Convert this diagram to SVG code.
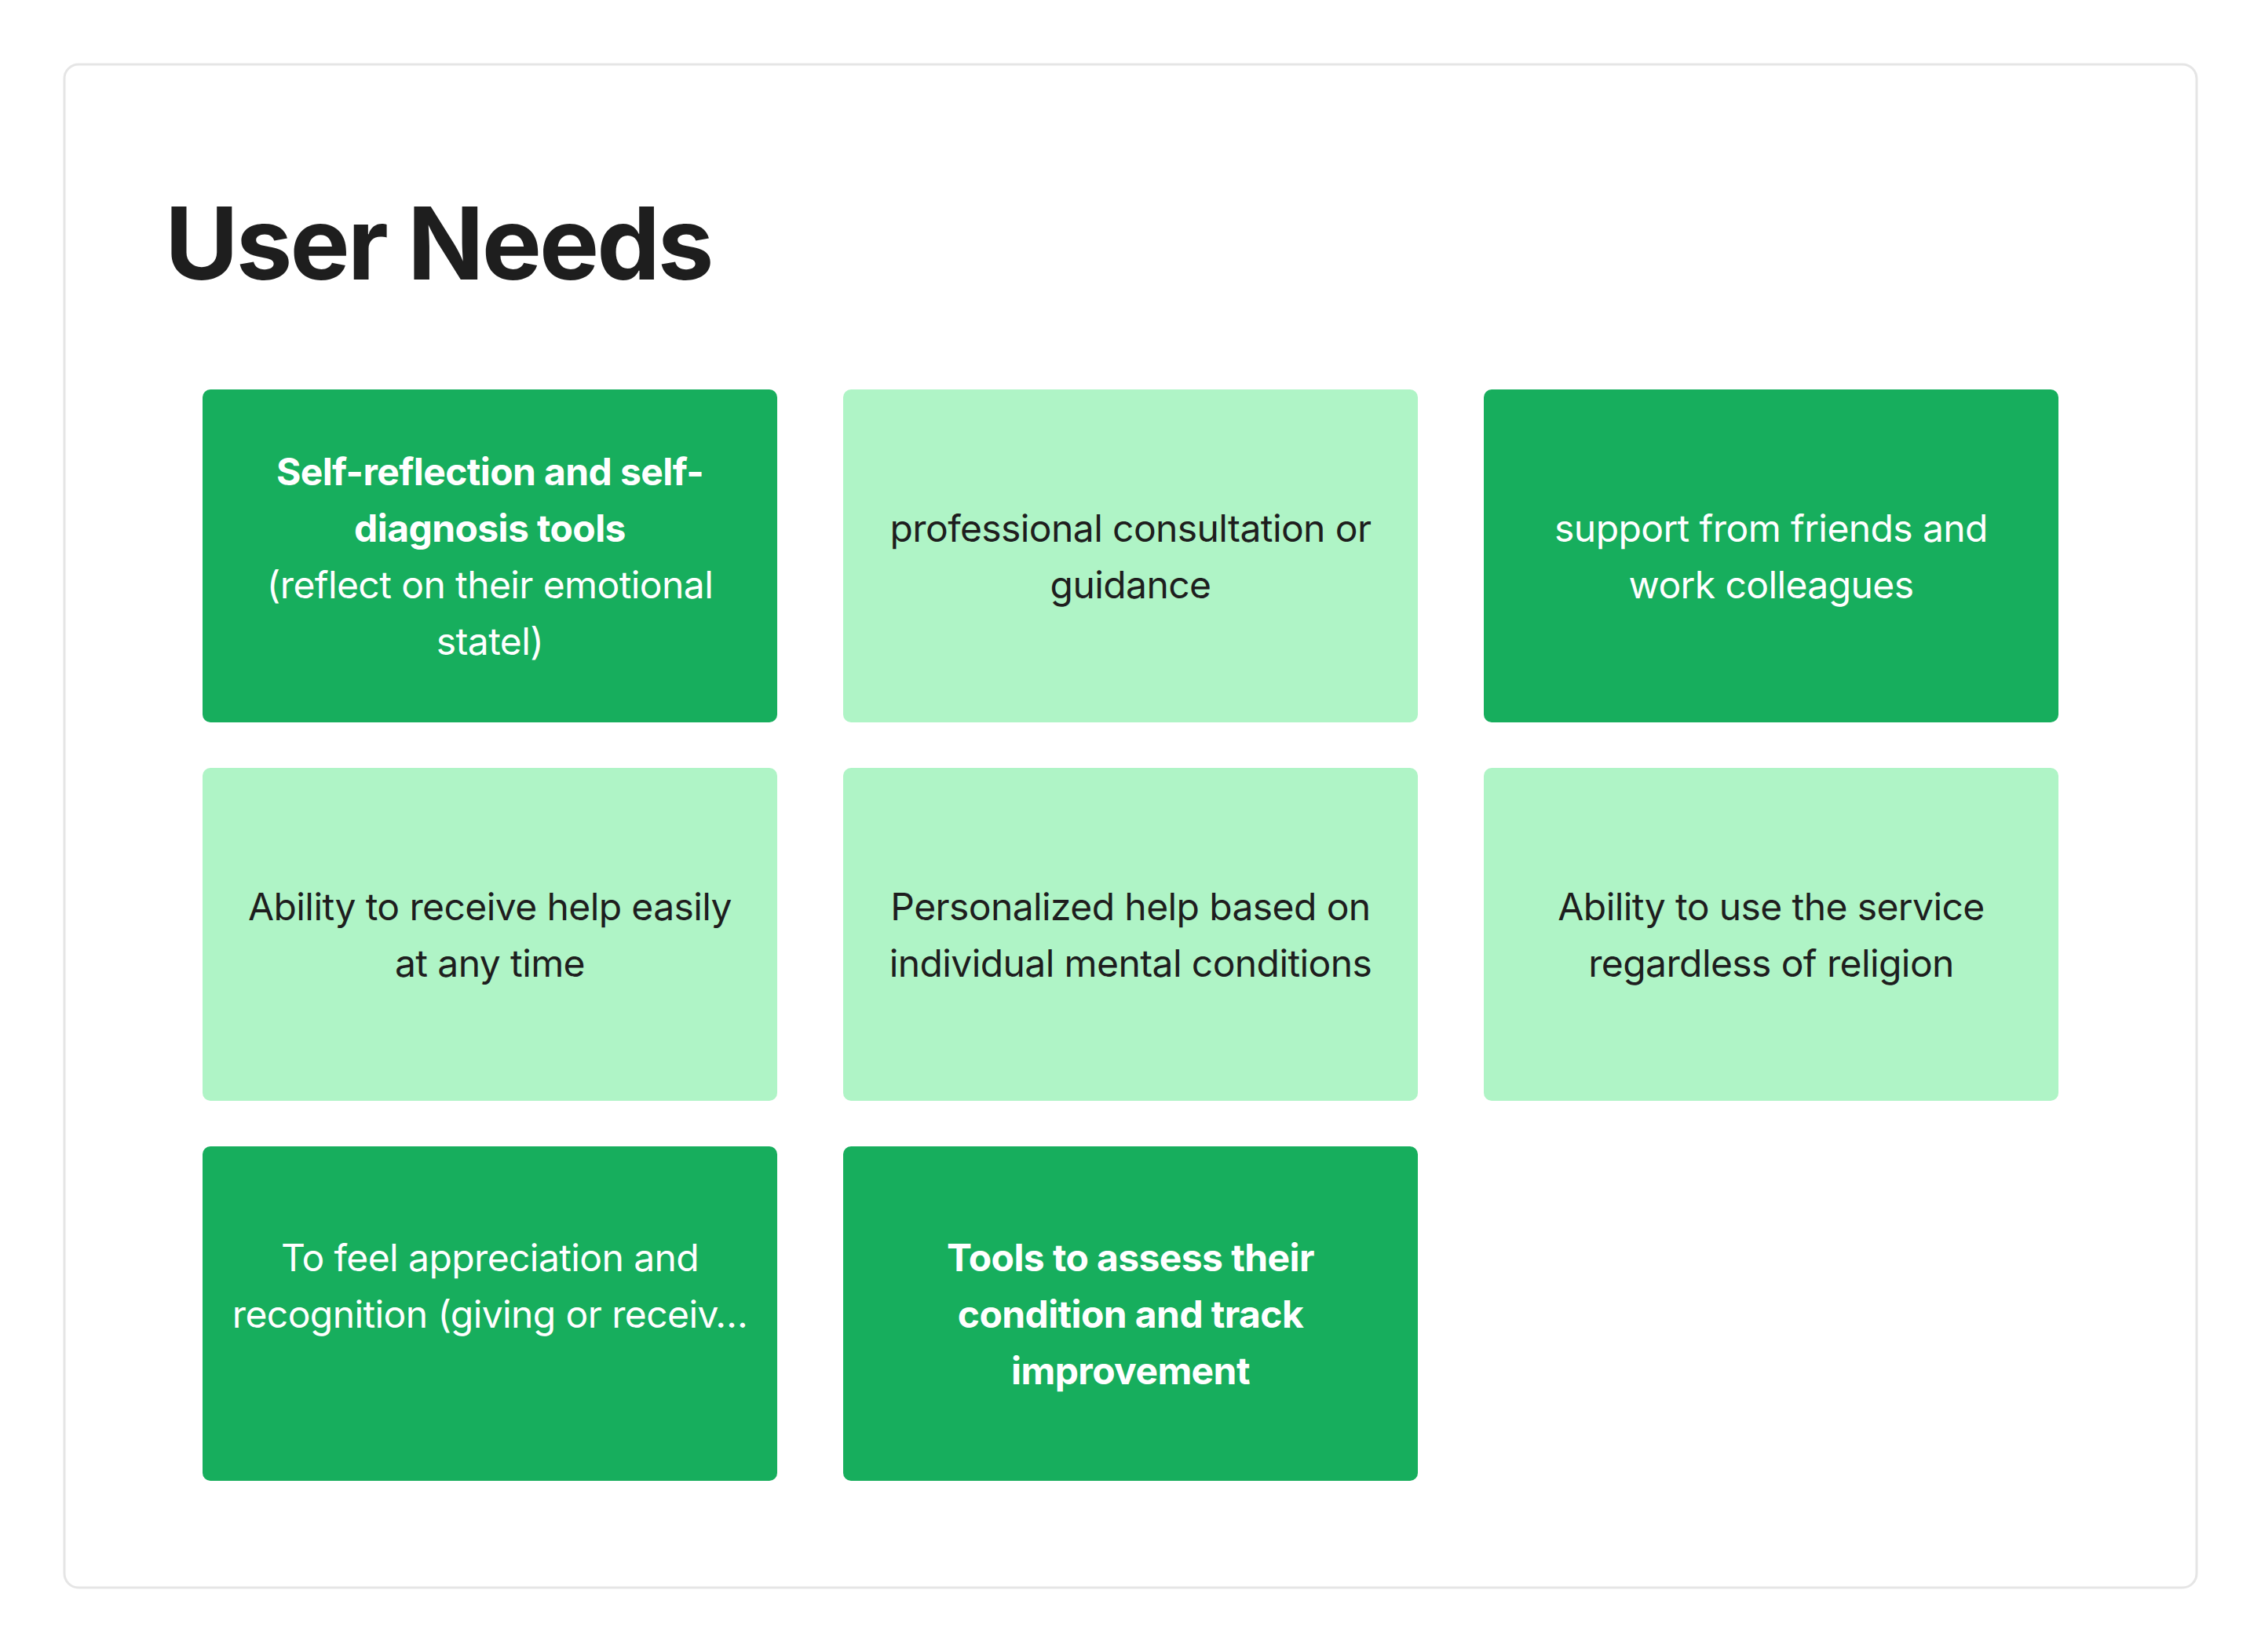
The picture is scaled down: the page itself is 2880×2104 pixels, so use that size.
<svg xmlns="http://www.w3.org/2000/svg" width="2880" height="2104" viewBox="0 0 2880 2104">
<style>
.t{font-family:Inter,"Noto Sans","Liberation Sans",sans-serif;font-size:48px;text-anchor:middle;letter-spacing:-0.6px}
.dk{fill:#17AE5D}
.lt{fill:#AFF4C6}
.w{fill:#FFFFFF}
.b{fill:#1E1E1E}
.bo{font-weight:700}
</style>
<rect width="2880" height="2104" fill="#FFFFFF"/>
<rect x="82" y="82" width="2716" height="1940" rx="18" fill="#FFFFFF" stroke="#E5E5E5" stroke-width="3"/>
<text x="210" y="356" font-family="Inter,'Noto Sans','Liberation Sans',sans-serif" font-size="128" font-weight="700" fill="#1E1E1E" letter-spacing="-3">User Needs</text>
<g id="connectors"></g>
<g id="n1">
<rect class="dk" x="258" y="496" width="732" height="424" rx="10"/>
<text class="t w"><tspan class="bo" x="624" y="617.5">Self-reflection and self-</tspan><tspan class="bo" x="624" y="689.5">diagnosis tools</tspan><tspan x="624" y="761.5">(reflect on their emotional</tspan><tspan x="624" y="833.5">statel)</tspan></text>
</g>
<g id="n2">
<rect class="lt" x="1074" y="496" width="732" height="424" rx="10"/>
<text class="t b"><tspan x="1440" y="689.5">professional consultation or</tspan><tspan x="1440" y="761.5">guidance</tspan></text>
</g>
<g id="n3">
<rect class="dk" x="1890" y="496" width="732" height="424" rx="10"/>
<text class="t w"><tspan x="2256" y="689.5">support from friends and</tspan><tspan x="2256" y="761.5">work colleagues</tspan></text>
</g>
<g id="n4">
<rect class="lt" x="258" y="978" width="732" height="424" rx="10"/>
<text class="t b"><tspan x="624" y="1171.5">Ability to receive help easily</tspan><tspan x="624" y="1243.5">at any time</tspan></text>
</g>
<g id="n5">
<rect class="lt" x="1074" y="978" width="732" height="424" rx="10"/>
<text class="t b"><tspan x="1440" y="1171.5">Personalized help based on</tspan><tspan x="1440" y="1243.5">individual mental conditions</tspan></text>
</g>
<g id="n6">
<rect class="lt" x="1890" y="978" width="732" height="424" rx="10"/>
<text class="t b"><tspan x="2256" y="1171.5">Ability to use the service</tspan><tspan x="2256" y="1243.5">regardless of religion</tspan></text>
</g>
<g id="n7">
<rect class="dk" x="258" y="1460" width="732" height="426" rx="10"/>
<text class="t w"><tspan x="624" y="1618.5">To feel appreciation and</tspan><tspan x="624" y="1690.5">recognition (giving or receiv…</tspan></text>
</g>
<g id="n8">
<rect class="dk" x="1074" y="1460" width="732" height="426" rx="10"/>
<text class="t w bo"><tspan x="1440" y="1618.5">Tools to assess their</tspan><tspan x="1440" y="1690.5">condition and track</tspan><tspan x="1440" y="1762.5">improvement</tspan></text>
</g>
</svg>
